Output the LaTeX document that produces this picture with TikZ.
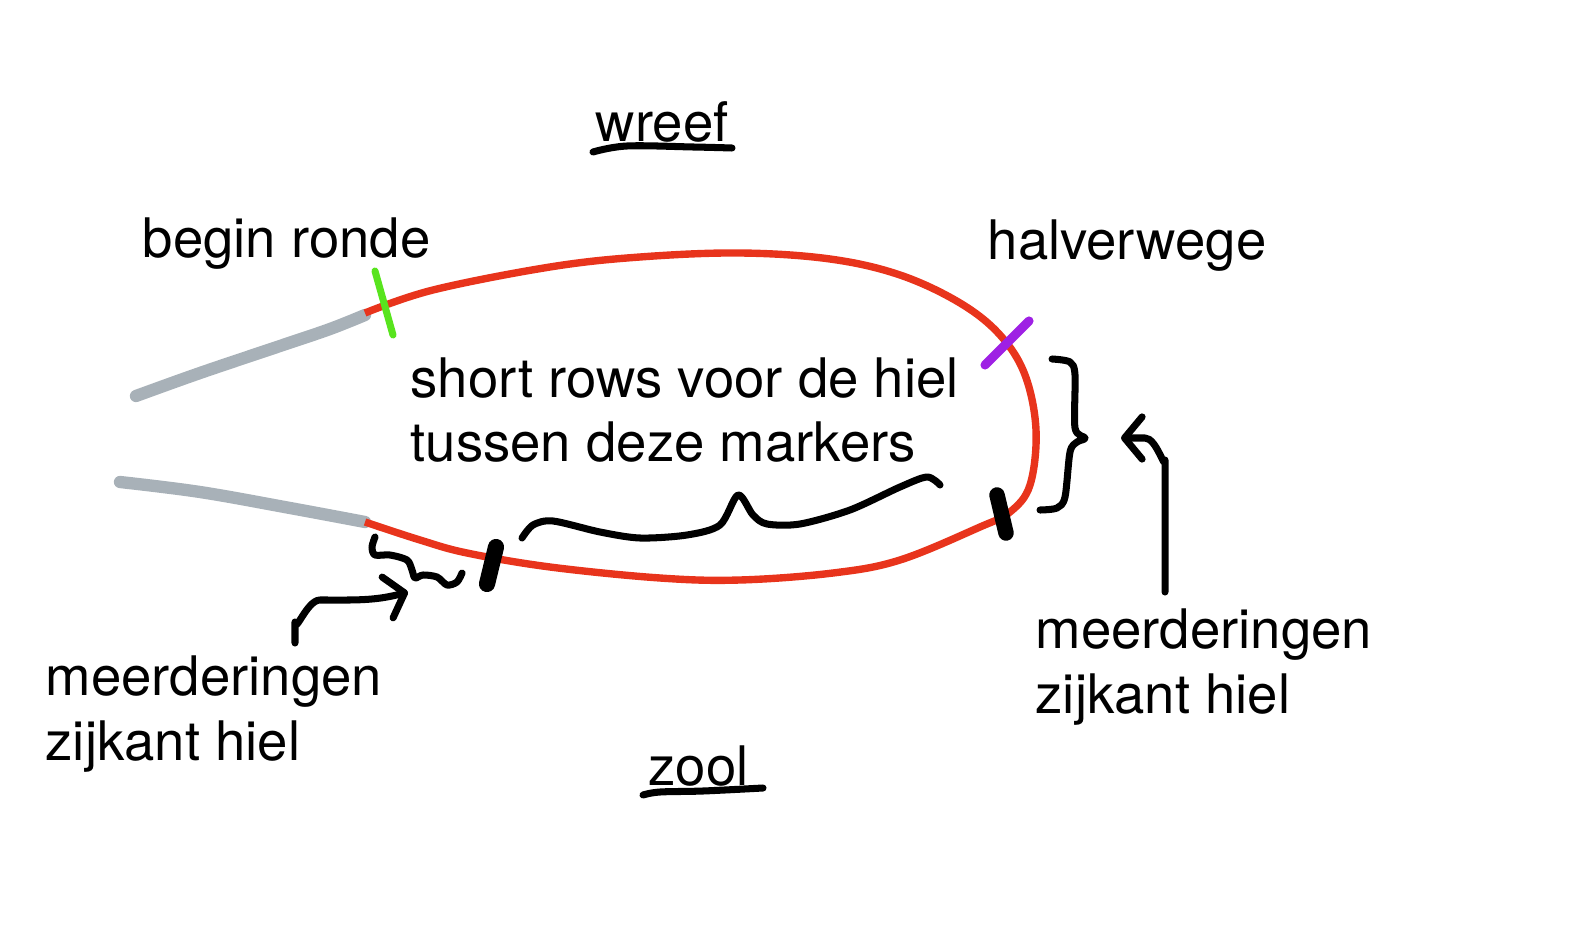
\documentclass[tikz,border=0pt]{standalone}
\usepackage{fontspec}
\setmainfont{TeX Gyre Heros}
\usepackage{xcolor}
\usetikzlibrary{arrows.meta}
\definecolor{roundred}{RGB}{232,52,28}
\definecolor{needlegray}{RGB}{168,177,184}
\definecolor{startgreen}{RGB}{88,228,30}
\definecolor{halfpurple}{RGB}{158,32,228}

\begin{document}
\begin{tikzpicture}[x=0.01cm, y=-0.01cm,
% common options for the texts:
tekst/.style = {anchor=base west, align=left, inner sep=0,
            font=\fontsize{15.5}{18.4}\selectfont},
% common options for the hand drawn strokes:
pen/.style = {draw, line width=2pt, line cap=round, line join=round},
% common options for the marks on the round:
mark line/.style = {line width=2pt, line cap=round},
pointer/.style = {pen, -{Straight Barb[length=5pt,width=12pt,round]}}]
\useasboundingbox (0,0) rectangle (1577,928);

% the needles
\draw[needlegray, line width=3.5pt, line cap=round] plot[smooth, tension=0.6]
  coordinates {(136,396) (200,373) (280,346) (330,329) (365,315)};
\draw[needlegray, line width=3.5pt, line cap=round] plot[smooth, tension=0.6]
  coordinates {(120,482) (200,492) (290,508) (365,522)};

% the round
\draw[roundred, line width=2.1pt] plot[smooth, tension=0.6] coordinates {
  (365,313) (433,290) (550,267) (640,257) (740,253) (830,259) (900,275)
  (960,303) (1000,335) (1025,375) (1036,430) (1030,485) (1010,512)
  (980,527) (900,560) (833,573) (740,580) (660,578) (550,567)
  (467,553) (420,540) (365,522)};

% marks
\draw[startgreen, mark line] (375,271) -- (393,335);
\draw[halfpurple, mark line, line width=2.6pt] (1029,321) -- (985,365);
\draw[mark line, line width=4.6pt] (496,547) -- (487,584);
\draw[mark line, line width=4.4pt] (997,495) -- (1006,533);

% texts
\node[tekst] (wreef) at (595,142) {wreef};
\node[tekst] (zool) at (648,785) {zool};
\node[tekst] (begin) at (142,258) {begin ronde};
\node[tekst] (half) at (987,260) {halverwege};
\node[tekst] (short) at (410,462) {short rows voor de hiel\\tussen deze markers};
\node[tekst] (meerL) at (45,760) {meerderingen\\zijkant hiel};
\node[tekst] (meerR) at (1035,713) {meerderingen\\zijkant hiel};

% underlines
\draw[pen] plot[smooth, tension=0.6] coordinates {(593,152) (627,146) (693,147) (732,148)};
\draw[pen] plot[smooth, tension=0.6] coordinates {(643,795) (660,792) (703,791) (763,788)};

% braces
\draw[pen] plot[smooth, tension=0.5] coordinates {
  (522,538) (533,525) (553,521) (600,532) (640,538) (687,535) (720,525)
  (738,495) (753,515) (767,524) (800,524) (850,510) (900,487) (927,477) (940,485)};
\draw[pen] plot[smooth, tension=0.5] coordinates {
  (1052,359) (1070,362) (1075,375) (1075,428) (1085,438) (1077,442)
  (1070,452) (1065,497) (1057,508) (1040,510)};
\draw[pen] plot[smooth, tension=0.5] coordinates {
  (375,537) (372,547) (375,555) (390,555) (407,560) (412,570) (415,578)
  (423,575) (437,577) (447,585) (457,582) (462,573)};

% pointers
\coordinate (fromL) at (295,643);
\coordinate (toL) at (408,592);
\coordinate (fromR) at (1165,592);
\coordinate (toR) at (1121,438);
\draw[pointer] (fromL) -- (295,622) to[out=-90,in=180] (320,600)
  to[out=0,in=195] (toL);
\draw[pointer] (fromR) -- (1165,460) to[out=-90,in=0] (1145,438) -- (toR);
\end{tikzpicture}
\end{document}
